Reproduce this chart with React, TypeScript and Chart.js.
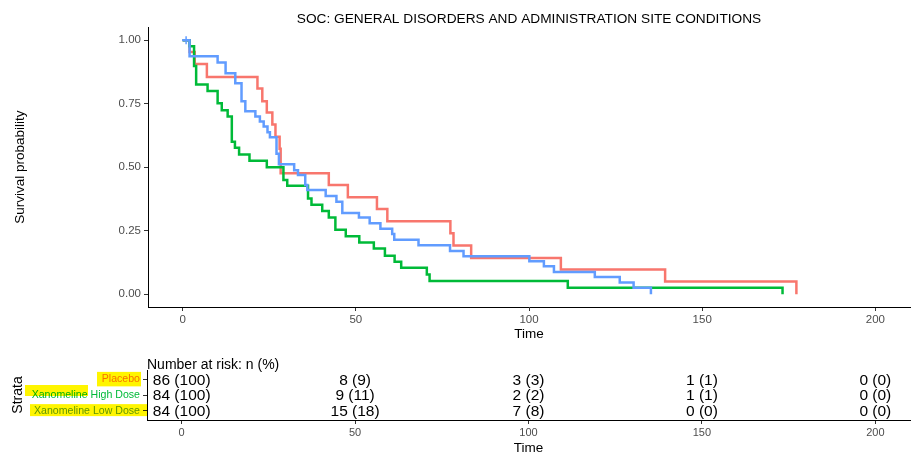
import React, { useEffect, useRef } from "react";
import { Chart, registerables } from "chart.js";

Chart.register(...registerables);

const FONT = "'Liberation Sans', Arial, Helvetica, sans-serif";

const chartTitle = "SOC: GENERAL DISORDERS AND ADMINISTRATION SITE CONDITIONS";
const strata = ["Placebo", "Xanomeline High Dose", "Xanomeline Low Dose"];
const strataColors = ["#F8766D", "#00BA38", "#619CFF"];

const xTicks = [0, 50, 100, 150, 200];
const yTicks = [0, 0.25, 0.5, 0.75, 1];

const placeboTime = [0, 2.0, 3.5, 7.0, 21.6, 23.0, 24.3, 25.9, 26.8, 28.0, 28.3, 42.2, 47.7, 56.1, 59.1, 77.3, 78.2, 83.3, 109.2, 139.3, 177.2];
const placeboSurv = [1, 0.953, 0.906, 0.855, 0.81, 0.76, 0.715, 0.668, 0.62, 0.573, 0.476, 0.43, 0.382, 0.336, 0.287, 0.24, 0.192, 0.143, 0.098, 0.05, 0];

const highTime = [0, 2.0, 3.3, 3.9, 7.2, 10.1, 11.3, 13.0, 14.2, 15.1, 16.3, 19.3, 24.3, 29.1, 30.2, 36.2, 37.2, 40.3, 42.2, 44.1, 47.1, 51.0, 55.2, 58.4, 61.2, 63.1, 70.5, 71.3, 111.2, 173.2];
const highSurv = [1, 0.976, 0.898, 0.825, 0.80, 0.752, 0.724, 0.70, 0.60, 0.577, 0.55, 0.525, 0.50, 0.45, 0.427, 0.377, 0.352, 0.328, 0.302, 0.254, 0.228, 0.204, 0.18, 0.152, 0.128, 0.104, 0.078, 0.052, 0.026, 0];

const lowTime = [0, 2.0, 10.1, 12.4, 15.2, 17.0, 18.1, 21.0, 22.3, 23.4, 24.5, 25.2, 27.1, 27.8, 32.2, 33.3, 35.4, 36.0, 41.3, 44.4, 46.1, 50.9, 54.0, 57.1, 60.5, 61.1, 68.1, 77.2, 81.1, 100.1, 104.3, 107.2, 119.0, 126.2, 130.2, 135.2];
const lowSurv = [1, 0.937, 0.912, 0.87, 0.83, 0.76, 0.72, 0.70, 0.68, 0.66, 0.638, 0.618, 0.553, 0.512, 0.488, 0.469, 0.43, 0.41, 0.387, 0.364, 0.32, 0.302, 0.28, 0.258, 0.237, 0.215, 0.193, 0.17, 0.15, 0.13, 0.11, 0.088, 0.068, 0.046, 0.026, 0];

const lowCensorTime = [1];
const lowCensorSurv = [1];

const riskTimes = [0, 50, 100, 150, 200];
const placeboRiskN = [86, 8, 3, 1, 0];
const placeboRiskPct = [100, 9, 3, 1, 0];
const highRiskN = [84, 9, 2, 1, 0];
const highRiskPct = [100, 11, 2, 1, 0];
const lowRiskN = [84, 15, 7, 0, 0];
const lowRiskPct = [100, 18, 8, 0, 0];

const riskN = [placeboRiskN, highRiskN, lowRiskN];
const riskPct = [placeboRiskPct, highRiskPct, lowRiskPct];

const pts = (xs: number[], ys: number[]) => xs.map((x, i) => ({ x, y: ys[i] }));

const axisCommon = (size: number) => ({
  grid: { display: true, drawOnChartArea: false, drawTicks: true, tickLength: 4, color: "#333333", lineWidth: 1 },
  border: { display: true, color: "#000000", width: 1 },
  ticks: { color: "#4D4D4D", font: { family: FONT, size }, maxRotation: 0, autoSkip: false },
});

export default function App() {
  const topRef = useRef<HTMLCanvasElement | null>(null);
  const botRef = useRef<HTMLCanvasElement | null>(null);

  useEffect(() => {
    const top = new Chart(topRef.current as HTMLCanvasElement, {
      type: "line",
      data: {
        datasets: [
          { label: strata[0], data: pts(placeboTime, placeboSurv), borderColor: strataColors[0], borderWidth: 2.5, stepped: true, pointRadius: 0, fill: false, order: 3 } as any,
          { label: strata[1], data: pts(highTime, highSurv), borderColor: strataColors[1], borderWidth: 2.5, stepped: true, pointRadius: 0, fill: false, order: 2 } as any,
          { label: strata[2], data: pts(lowTime, lowSurv), borderColor: strataColors[2], borderWidth: 2.5, stepped: true, pointRadius: 0, fill: false, order: 1 } as any,
          { type: "scatter", label: "censor", data: pts(lowCensorTime, lowCensorSurv), pointStyle: "cross", pointRadius: 4, borderColor: strataColors[2], borderWidth: 1.5, showLine: false, order: 0 } as any,
        ],
      },
      options: {
        animation: false,
        responsive: false,
        maintainAspectRatio: false,
        layout: { padding: { left: 0, right: 10, top: 0, bottom: 0 } },
        plugins: {
          legend: { display: false },
          tooltip: { enabled: false },
          title: {
            display: true,
            fullSize: false,
            text: chartTitle,
            color: "#000000",
            font: { family: FONT, size: 13.7, weight: "normal" },
            padding: { top: 11, bottom: 0 },
          },
        },
        scales: {
          x: {
            type: "linear",
            min: -10,
            max: 210,
            ...axisCommon(11.5),
            afterBuildTicks: (s: any) => { s.ticks = xTicks.map((v) => ({ value: v })); },
            afterFit: (s: any) => { s.height = 38; },
            ticks: { color: "#4D4D4D", font: { family: FONT, size: 11.5 }, maxRotation: 0, autoSkip: false, padding: 2, callback: (v: any) => String(v) },
            title: { display: true, text: "Time", color: "#000000", font: { family: FONT, size: 13.5 }, padding: { top: 0, bottom: 3 } },
          },
          y: {
            type: "linear",
            min: -0.05,
            max: 1.05,
            ...axisCommon(11.5),
            afterBuildTicks: (s: any) => { s.ticks = yTicks.map((v) => ({ value: v })); },
            afterFit: (s: any) => { s.width = 148; },
            ticks: { color: "#4D4D4D", font: { family: FONT, size: 11.5 }, padding: 3, callback: (v: any) => Number(v).toFixed(2) },
            title: { display: true, text: "Survival probability", color: "#000000", font: { family: FONT, size: 13.5 }, padding: { top: 12, bottom: 0 } },
          },
        },
      } as any,
    });

    const riskTextPlugin = {
      id: "riskText",
      afterDatasetsDraw(chart: any) {
        const ctx = chart.ctx;
        ctx.save();
        ctx.fillStyle = "#000000";
        ctx.textAlign = "center";
        ctx.textBaseline = "middle";
        ctx.font = `15.5px ${FONT}`;
        for (let i = 0; i < strata.length; i++) {
          const meta = chart.getDatasetMeta(i);
          meta.data.forEach((el: any, j: number) => {
            ctx.fillText(`${riskN[i][j]} (${riskPct[i][j]})`, el.x, el.y + 1);
          });
        }
        ctx.textAlign = "left";
        ctx.font = `14px ${FONT}`;
        ctx.fillText("Number at risk: n (%)", chart.chartArea.left, 20);
        ctx.restore();
      },
      afterDraw(chart: any) {
        const ctx = chart.ctx;
        const ys = chart.scales.y;
        const r = [
          { x0: 97, x1: 141, dy0: -7.5, dy1: 7 },
          { x0: 25, x1: 88, dy0: -10, dy1: 1 },
          { x0: 30, x1: 148, dy0: -6.5, dy1: 5.5 },
        ];
        ctx.save();
        ctx.globalCompositeOperation = "multiply";
        ctx.fillStyle = "#FFF500";
        r.forEach((b, i) => {
          const yc = ys.getPixelForValue(i + 1);
          ctx.fillRect(b.x0, yc + b.dy0, b.x1 - b.x0, b.dy1 - b.dy0);
        });
        ctx.restore();
      },
    };

    const bot = new Chart(botRef.current as HTMLCanvasElement, {
      type: "scatter",
      data: {
        datasets: strata.map((s, i) => ({
          label: s,
          data: riskTimes.map((t) => ({ x: t, y: i + 1 })),
          pointRadius: 0,
          showLine: false,
        })),
      },
      options: {
        animation: false,
        responsive: false,
        maintainAspectRatio: false,
        layout: { padding: { left: 0, right: 10, top: 25, bottom: 0 } },
        plugins: { legend: { display: false }, tooltip: { enabled: false }, title: { display: false } },
        scales: {
          x: {
            type: "linear",
            min: -10,
            max: 210,
            ...axisCommon(11),
            afterBuildTicks: (s: any) => { s.ticks = xTicks.map((v) => ({ value: v })); },
            afterFit: (s: any) => { s.height = 38; },
            ticks: { color: "#4D4D4D", font: { family: FONT, size: 11 }, maxRotation: 0, autoSkip: false, padding: 2, callback: (v: any) => String(v) },
            title: { display: true, text: "Time", color: "#000000", font: { family: FONT, size: 13.5 }, padding: { top: 0, bottom: 2 } },
          },
          y: {
            type: "linear",
            min: 0.4,
            max: 3.6,
            reverse: true,
            ...axisCommon(10.6),
            afterBuildTicks: (s: any) => { s.ticks = [1, 2, 3].map((v) => ({ value: v })); },
            afterFit: (s: any) => { s.width = 147; },
            ticks: {
              font: { family: FONT, size: 10.6 },
              padding: 3,
              color: (c: any) => strataColors[(c.tick?.value ?? 1) - 1],
              callback: (v: any) => strata[Number(v) - 1],
            },
            title: { display: true, text: "Strata", color: "#000000", font: { family: FONT, size: 14 }, padding: { top: 9.6, bottom: 0 } },
          },
        },
      } as any,
      plugins: [riskTextPlugin],
    });

    return () => {
      top.destroy();
      bot.destroy();
    };
  }, []);

  return (
    <div style={{ position: "absolute", left: 0, top: 0, width: 920, height: 458, background: "#ffffff" }}>
      <canvas ref={topRef} width={920} height={345} style={{ position: "absolute", left: 0, top: 0, width: 920, height: 345 }} />
      <canvas ref={botRef} width={920} height={113} style={{ position: "absolute", left: 0, top: 345, width: 920, height: 113 }} />
    </div>
  );
}
